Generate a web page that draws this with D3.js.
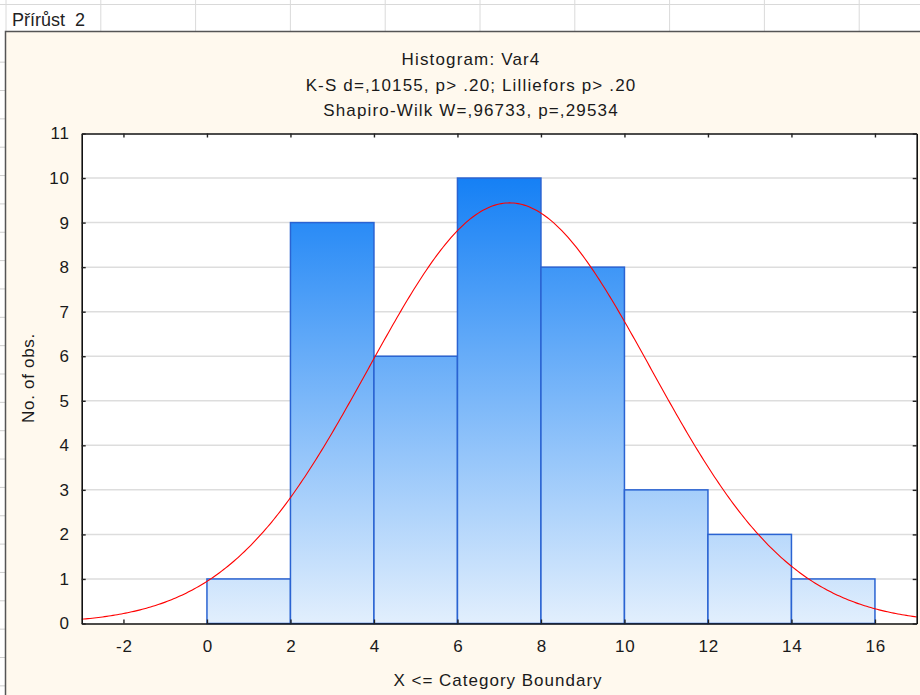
<!DOCTYPE html>
<html>
<head>
<meta charset="utf-8">
<script src="https://cdn.jsdelivr.net/npm/d3@7"></script>
<style>
  html, body { margin: 0; padding: 0; background: #fff; }
  svg { display: block; }
  text { font-family: "Liberation Sans", Arial, sans-serif; }
</style>
</head>
<body>
<svg id="chart" width="920" height="695"></svg>
<script>
// ---- data ----
const binStarts = [0, 2, 4, 6, 8, 10, 12, 14];
const binEnds   = [2, 4, 6, 8, 10, 12, 14, 16];
const counts    = [1, 9, 6, 10, 8, 3, 2, 1];
const xTicks    = [-2, 0, 2, 4, 6, 8, 10, 12, 14, 16];
const yTicks    = [0, 1, 2, 3, 4, 5, 6, 7, 8, 9, 10, 11];
const fitMean   = 7.25;
const fitSd     = 3.38;
const titleLines = [
  "Histogram: Var4",
  "K-S d=,10155, p> .20; Lilliefors p> .20",
  "Shapiro-Wilk W=,96733, p=,29534"
];
const sheetLabel = "Přírůst  2";
const xLabel = "X <= Category Boundary";
const yLabel = "No. of obs.";

// ---- layout ----
const W = 920, H = 695;
const plot = { left: 81.7, right: 916.7, top: 133.5, bottom: 623.5 };
const svg = d3.select("#chart");

// spreadsheet background
const sheet = svg.append("g");
sheet.append("rect").attr("width", W).attr("height", H).attr("fill", "#ffffff");
sheet.append("line").attr("x1", 0).attr("x2", W).attr("y1", 4.5).attr("y2", 4.5)
  .attr("stroke", "#d9d9d9").attr("stroke-width", 1);
for (let k = 0; k < 10; k++) {
  const xx = 6 + 94.8 * k;
  sheet.append("line").attr("x1", xx).attr("x2", xx).attr("y1", 0).attr("y2", 31)
    .attr("stroke", "#dadada").attr("stroke-width", 1);
}
for (let k = -1; k < 22; k++) {
  const yy = 90.5 + 28.35 * k;
  sheet.append("line").attr("x1", 0).attr("x2", 5).attr("y1", yy).attr("y2", yy)
    .attr("stroke", "#cfcfcf").attr("stroke-width", 1);
}
sheet.append("text").attr("x", 12).attr("y", 25.5).attr("font-size", 18)
  .attr("fill", "#222").style("white-space", "pre").text(sheetLabel);

// chart window
svg.append("rect").attr("x", 5.5).attr("y", 31.5).attr("width", 930).attr("height", 700)
  .attr("fill", "#FFF9EE").attr("stroke", "#555").attr("stroke-width", 1.5);

// titles
const titleBase = [65, 90.5, 116];
svg.append("g").selectAll("text").data(titleLines).join("text")
  .attr("x", 471).attr("y", (d, i) => titleBase[i])
  .attr("text-anchor", "middle").attr("font-size", 17).attr("letter-spacing", 1.15)
  .attr("fill", "#1a1a1a")
  .text(d => d);

// scales
const x = d3.scaleLinear().domain([-3, 17]).range([plot.left, plot.right]);
const y = d3.scaleLinear().domain([0, 11]).range([plot.bottom, plot.top]);

// plot background
svg.append("rect").attr("x", plot.left).attr("y", plot.top)
  .attr("width", plot.right - plot.left).attr("height", plot.bottom - plot.top)
  .attr("fill", "#ffffff");

// gridlines
svg.append("g").selectAll("line").data(yTicks.filter(v => v > 0 && v < 11)).join("line")
  .attr("x1", plot.left).attr("x2", plot.right)
  .attr("y1", d => y(d)).attr("y2", d => y(d))
  .attr("stroke", "#dddddd").attr("stroke-width", 1.5);

// gradient
const defs = svg.append("defs");
const grad = defs.append("linearGradient").attr("id", "barGrad")
  .attr("gradientUnits", "userSpaceOnUse")
  .attr("x1", 0).attr("x2", 0).attr("y1", y(10)).attr("y2", y(0));
grad.append("stop").attr("offset", "0%").attr("stop-color", "#1580F5");
grad.append("stop").attr("offset", "100%").attr("stop-color", "#E2EFFD");

// bars
const bins = counts.map((c, i) => ({ x0: binStarts[i], x1: binEnds[i], c }));
svg.append("g").selectAll("rect").data(bins).join("rect")
  .attr("x", d => x(d.x0)).attr("width", d => x(d.x1) - x(d.x0))
  .attr("y", d => y(d.c)).attr("height", d => y(0) - y(d.c))
  .attr("fill", "url(#barGrad)")
  .attr("stroke", "#2a63d2").attr("stroke-width", 1.5);

// fitted normal curve
const N = d3.sum(counts);
const bw = binEnds[0] - binStarts[0];
const pdf = v => Math.exp(-0.5 * ((v - fitMean) / fitSd) ** 2) / (fitSd * Math.sqrt(2 * Math.PI));
const xs = d3.range(-3, 17.001, 0.05);
svg.append("path").datum(xs)
  .attr("d", d3.line().x(v => x(v)).y(v => y(N * bw * pdf(v))))
  .attr("fill", "none").attr("stroke", "#ff0000").attr("stroke-width", 1.1);

// axes
const fmt = d => String(d);
const styleAxis = g => {
  g.select(".domain").attr("stroke", "#111").attr("stroke-width", 1.6);
  g.selectAll(".tick line").attr("stroke", "#222").attr("stroke-width", 1.4);
  g.selectAll(".tick text").attr("font-size", 17).attr("letter-spacing", 0.8).attr("fill", "#1a1a1a")
    .attr("font-family", '"Liberation Sans", Arial, sans-serif');
};
svg.append("g").attr("transform", `translate(0,${plot.bottom})`)
  .call(d3.axisBottom(x).tickValues(xTicks).tickSize(-4).tickSizeOuter(0).tickPadding(16).tickFormat(fmt))
  .call(styleAxis)
  .call(g => g.selectAll(".tick text").attr("dx", "0.4"));
svg.append("g").attr("transform", `translate(0,${plot.top})`)
  .call(d3.axisTop(x).tickValues(xTicks).tickSize(-4).tickSizeOuter(0).tickFormat(""))
  .call(styleAxis);
svg.append("g").attr("transform", `translate(${plot.left},0)`)
  .call(d3.axisLeft(y).tickValues(yTicks).tickSize(-4).tickSizeOuter(0).tickPadding(12).tickFormat(fmt))
  .call(styleAxis);
svg.append("g").attr("transform", `translate(${plot.right},0)`)
  .call(d3.axisRight(y).tickValues(yTicks).tickSize(-4).tickSizeOuter(0).tickFormat(""))
  .call(styleAxis);

// axis labels
svg.append("text").attr("x", 498).attr("y", 686).attr("text-anchor", "middle")
  .attr("font-size", 17).attr("letter-spacing", 1.0).attr("fill", "#1a1a1a").text(xLabel);
svg.append("text").attr("transform", "translate(33.5,378) rotate(-90)")
  .attr("text-anchor", "middle").attr("font-size", 17).attr("letter-spacing", 0.7)
  .attr("fill", "#1a1a1a").text(yLabel);
</script>
</body>
</html>
